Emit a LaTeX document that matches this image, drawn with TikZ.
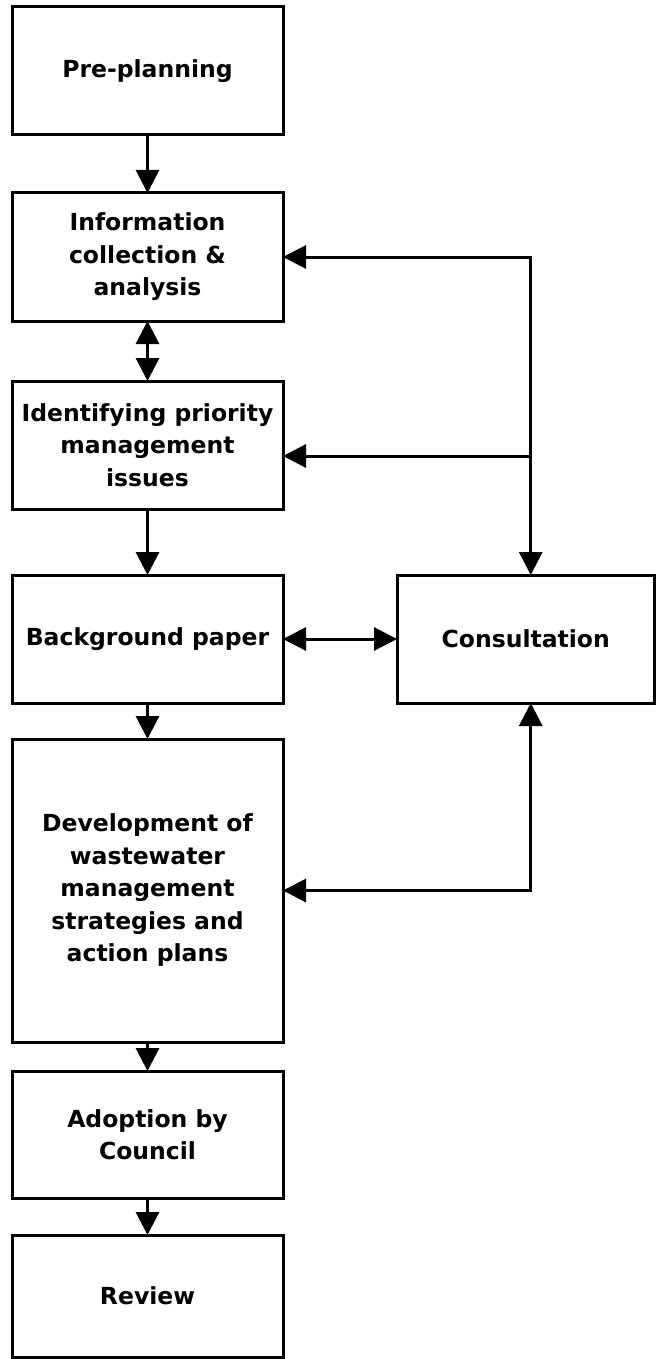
\documentclass[tikz,border=0pt]{standalone}
\usepackage{fontspec}
\setmainfont{DejaVu Sans}
\usetikzlibrary{positioning, arrows.meta}
\tikzset{
-, % plain lines unless an arrow is asked for
>={Triangle[length=23pt, width=23pt]}, % big filled arrow heads
x=1pt, y=1pt, % one unit is one point
node distance=58pt, % gap between two boxes of the column. Change if necessary.
every node/.style={outer sep=0pt},
stage/.style={draw=black, line width=3pt, minimum width=271pt, minimum height=128pt, align=center, font=\bfseries\fontsize{23.5}{32.5}\selectfont}, % a box of the main column
link/.style={line width=3pt}, % the connecting lines
}

\begin{document}
\begin{tikzpicture}
  \useasboundingbox (0,0) rectangle (656,-1359);

  \node[stage] (pre) at (147.5,-71) {Pre-planning};
  \node[stage, below=of pre] (info) {Information\\collection \&\\analysis};
  \node[stage, below=60pt of info] (ident) {Identifying priority\\management\\issues};
  \node[stage, below=66pt of ident] (bg) {Background paper};
  \node[stage, right=114pt of bg, minimum width=257.5pt] (cons) {Consultation};
  \node[stage, below=36pt of bg, minimum height=303pt] (dev) {Development of\\wastewater\\management\\strategies and\\action plans};
  \node[stage, below=29pt of dev, minimum height=127pt] (adopt) {Adoption by\\Council};
  \node[stage, below=37pt of adopt, minimum height=122pt] (review) {Review};

  % the line on the right, to and from the consultation box
  \coordinate (ctop) at ([xshift=5pt]cons.north);
  \coordinate (cbot) at ([xshift=5pt]cons.south);
  \coordinate (jtop) at (ctop |- info.east);
  \coordinate (idr) at ([yshift=-11pt]ident.east);
  \coordinate (jmid) at (ctop |- idr);
  \coordinate (jbot) at (cbot |- dev.east);

  \draw[link, ->] (pre) -- (info);
  \draw[link, <->] (info) -- (ident);
  \draw[link, ->] (ident) -- (bg);
  \draw[link, <->] (bg) -- (cons);
  \draw[link, ->] (bg) -- (dev);
  \draw[link, ->] (dev) -- (adopt);
  \draw[link, ->] (adopt) -- (review);

  \draw[link, <->] (info.east) -- (jtop) -- (ctop);
  \draw[link, ->] (jmid) -- (idr);
  \draw[link, <->] (dev.east) -- (jbot) -- (cbot);
\end{tikzpicture}
\end{document}
